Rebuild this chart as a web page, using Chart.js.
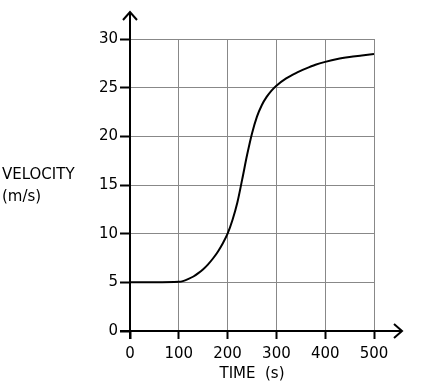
<!DOCTYPE html>
<html><head><meta charset="utf-8">
<script src="https://cdn.jsdelivr.net/npm/chart.js@4/dist/chart.umd.min.js"></script>
<style>html,body{margin:0;padding:0;background:#fff;}canvas{display:block;}</style>
</head><body>
<canvas id="c" width="427" height="383"></canvas>
<script>
const timeValues = [0, 50, 100, 110, 120, 130, 140, 150, 160, 170, 180, 190, 200, 210, 220, 230, 240, 250, 260, 270, 280, 290, 300, 320, 340, 360, 380, 400, 425, 450, 475, 500];
const velocityValues = [5, 5, 5.05, 5.15, 5.35, 5.6, 5.95, 6.35, 6.85, 7.45, 8.15, 9.0, 10.0, 11.4, 13.2, 15.6, 18.1, 20.3, 22.0, 23.2, 24.05, 24.7, 25.2, 25.95, 26.5, 26.95, 27.35, 27.65, 27.95, 28.15, 28.3, 28.45];
const xTicks = [0, 100, 200, 300, 400, 500];
const yTicks = [0, 5, 10, 15, 20, 25, 30];
const xTitle = 'TIME  (s)';
const yTitleLines = ['VELOCITY', '(m/s)'];

const FONT = '"DejaVu Sans", sans-serif';

const axesPlugin = {
  id: 'axesArrows',
  afterDraw(chart) {
    const ctx = chart.ctx;
    const xs = chart.scales.x, ys = chart.scales.y;
    const x0 = xs.getPixelForValue(0), y0 = ys.getPixelForValue(0);
    ctx.save();
    ctx.strokeStyle = '#000';
    ctx.lineWidth = 2;
    ctx.lineCap = 'butt';
    // y axis
    ctx.beginPath();
    ctx.moveTo(x0, y0 + 8);
    ctx.lineTo(x0, 13);
    ctx.stroke();
    ctx.beginPath();
    ctx.moveTo(x0 - 7, 20); ctx.lineTo(x0, 12); ctx.lineTo(x0 + 7, 20);
    ctx.stroke();
    // x axis
    ctx.beginPath();
    ctx.moveTo(x0 - 10, y0);
    ctx.lineTo(402, y0);
    ctx.stroke();
    ctx.beginPath();
    ctx.moveTo(394, y0 - 7); ctx.lineTo(402, y0); ctx.lineTo(394, y0 + 7);
    ctx.stroke();
    // y title
    ctx.fillStyle = '#000';
    ctx.font = '15px ' + FONT;
    ctx.textAlign = 'left';
    ctx.textBaseline = 'middle';
    ctx.fillText(yTitleLines[0], 2, 175);
    ctx.fillText(yTitleLines[1], 2, 197);
    ctx.restore();
  }
};

new Chart(document.getElementById('c'), {
  type: 'line',
  data: {
    datasets: [{
      data: timeValues.map((t, i) => ({x: t, y: velocityValues[i]})),
      borderColor: '#000',
      borderWidth: 2,
      pointRadius: 0,
      cubicInterpolationMode: 'monotone',
      fill: false
    }]
  },
  options: {
    responsive: false,
    animation: false,
    devicePixelRatio: 1,
    layout: {padding: {left: 0, right: 53, top: 39, bottom: 0}},
    plugins: {legend: {display: false}, tooltip: {enabled: false}},
    scales: {
      x: {
        type: 'linear', min: 0, max: 500,
        afterBuildTicks: s => { s.ticks = xTicks.map(v => ({value: v})); },
        afterFit: s => { s.height = 52; },
        border: {display: false},
        grid: {color: '#888', lineWidth: 1, tickColor: '#000', tickLength: 8, tickWidth: 2},
        ticks: {color: '#000', font: {family: FONT, size: 15}, padding: 6, maxRotation: 0},
        title: {display: true, text: xTitle, color: '#000', font: {family: FONT, size: 15}, padding: {top: 2, bottom: 0}}
      },
      y: {
        type: 'linear', min: 0, max: 30,
        afterBuildTicks: s => { s.ticks = yTicks.map(v => ({value: v})); },
        afterFit: s => { s.width = 130; },
        border: {display: false},
        grid: {color: '#888', lineWidth: 1, tickColor: '#000', tickLength: 10, tickWidth: 2},
        ticks: {color: '#000', font: {family: FONT, size: 15}, padding: 2}
      }
    }
  },
  plugins: [axesPlugin]
});
</script>
</body></html>
